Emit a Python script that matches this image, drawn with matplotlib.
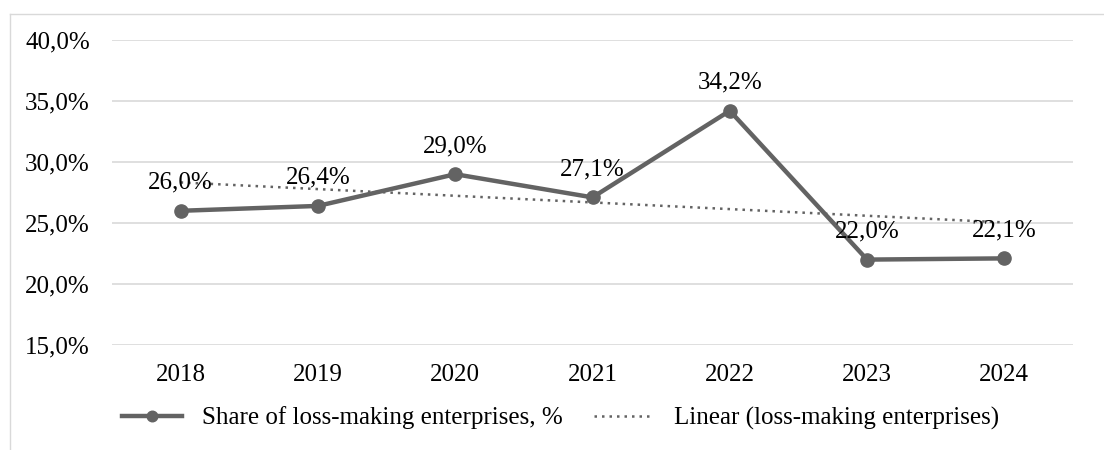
import matplotlib.pyplot as plt
import matplotlib.lines as mlines
import numpy as np

plt.rcParams['font.family'] = ['Liberation Serif', 'DejaVu Serif']

# data
years = ['2018', '2019', '2020', '2021', '2022', '2023', '2024']
share = [26.0, 26.4, 29.0, 27.1, 34.2, 22.0, 22.1]
y_ticks = [15, 20, 25, 30, 35, 40]

line_col = '#636363'
grid_col = '#d9d9d9'
fs = 18

fig = plt.figure(figsize=(11.04, 4.5), dpi=100)
ax = fig.add_axes([112 / 1104, 1 - 345 / 450, 961 / 1104, 305 / 450])

x = np.arange(len(years))

## linear trendline
k, b = np.polyfit(x, share, 1)
ax.plot(x, k * x + b, color=line_col, linestyle=(0, (1, 2)), linewidth=1.8,
        label='Linear (loss-making enterprises)', zorder=2)

## main series
ax.plot(x, share, color=line_col, linewidth=3.2, marker='o', markersize=9.5,
        label='Share of loss-making enterprises, %', zorder=3)

for xi, v in zip(x, share):
    ax.annotate('{:.1f}%'.format(v).replace('.', ','), (xi, v), xytext=(0, 16),
                textcoords='offset points', ha='center', va='baseline',
                fontsize=fs, zorder=4)

## axes
ax.set_xlim(-0.5, len(years) - 0.5)
ax.set_ylim(15, 40)
ax.set_xticks(x)
ax.set_xticklabels(years, fontsize=fs)
ax.set_yticks(y_ticks)
ax.set_yticklabels(['{:.1f}%'.format(t).replace('.', ',') for t in y_ticks], fontsize=fs)
ax.tick_params(axis='y', length=0, pad=16)
ax.tick_params(axis='x', length=0, pad=14)
ax.grid(axis='y', color=grid_col, linewidth=1.2)
ax.set_axisbelow(True)
for s in ax.spines.values():
    s.set_visible(False)

## legend (series first)
h, l = ax.get_legend_handles_labels()
fig.legend(h[::-1], l[::-1], loc='center', bbox_to_anchor=(0.508, 0.071), ncol=2,
           frameon=False, fontsize=fs, handlelength=2.4, handletextpad=0.8,
           columnspacing=1.26, markerscale=0.8)

## chart border
fig.add_artist(mlines.Line2D([10 / 1104, 1], [1 - 14 / 450, 1 - 14 / 450], color=grid_col, linewidth=1))
fig.add_artist(mlines.Line2D([10 / 1104, 10 / 1104], [0, 1 - 14 / 450], color=grid_col, linewidth=1))

fig.savefig('out.png', dpi=100)
